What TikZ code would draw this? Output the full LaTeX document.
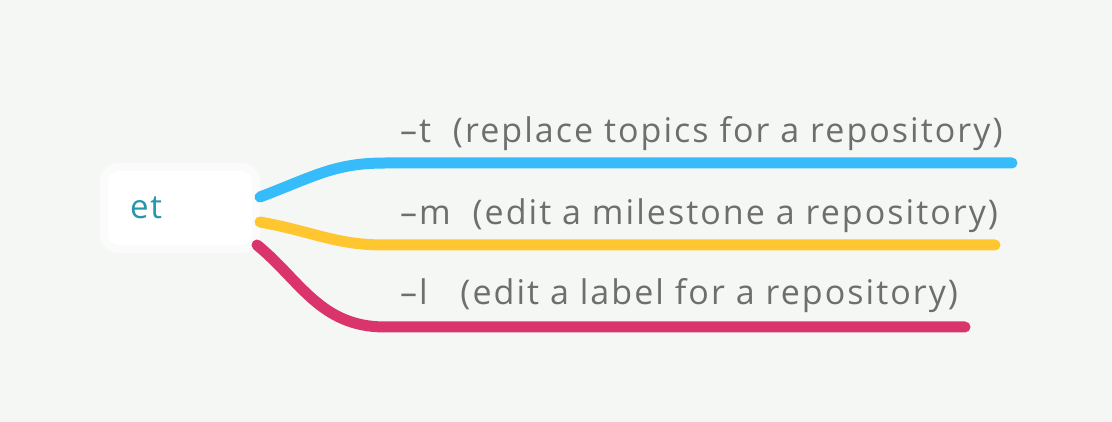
\documentclass[tikz,border=0pt]{standalone}
\usepackage{fontspec}
\setmainfont{Open Sans}
\newfontfamily\labelfont[LetterSpace=6]{Open Sans}
\definecolor{bgcol}{HTML}{F5F7F5}
\definecolor{rimcol}{HTML}{FAFBFA}
\definecolor{rootcol}{HTML}{2596AC}
\definecolor{textcol}{HTML}{6E6E6E}
\definecolor{bluecol}{HTML}{36BCFB}
\definecolor{yellowcol}{HTML}{FFC630}
\definecolor{redcol}{HTML}{D9346B}
\def\labelX{400}
\def\bendX{385}

\begin{document}
\begin{tikzpicture}[
    x=1pt, y=-1pt,
    rootbox/.style={
      fill=white, draw=rimcol, line width=8pt, rounded corners=14pt,
      minimum width=152pt, minimum height=82pt, inner xsep=26pt,
      text width=100pt, align=left, text=rootcol,
      font=\labelfont\fontsize{33}{39}\selectfont
    },
    branchlabel/.style={
      anchor=base west, inner sep=0pt, text=textcol,
      font=\labelfont\fontsize{34}{40}\selectfont
    },
    branch/.style={
      line width=11pt, line cap=round
    }
  ]
    \fill[bgcol] (0,0) rectangle (1112,422);
    \useasboundingbox (0,0) rectangle (1112,422);

    \node[rootbox] (et) at (180,208) {et};

    \node[branchlabel] (optT) at (\labelX,143) {–t\ \ (replace topics for a repository)};
    \node[branchlabel] (optM) at (\labelX,225) {–m\ \ (edit a milestone a repository)};
    \node[branchlabel] (optL) at (\labelX,305) {–l\ \ \ (edit a label for a repository)};

    \coordinate (endT) at (1012,163);
    \coordinate (endM) at (995,245);
    \coordinate (endL) at (965,327);

    % branches
    \draw[branch,bluecol] ([yshift=11pt]et.east) .. controls (315,176) and (335,163) .. (\bendX,163) -- (endT);
    \draw[branch,yellowcol] ([yshift=-14pt]et.east) .. controls (315,232) and (335,245) .. (\bendX,245) -- (endM);
    \draw[branch,redcol] ([xshift=-3pt,yshift=-37pt]et.east) .. controls (300,280) and (320,327) .. (\bendX,327) -- (endL);
  \end{tikzpicture}
\end{document}
